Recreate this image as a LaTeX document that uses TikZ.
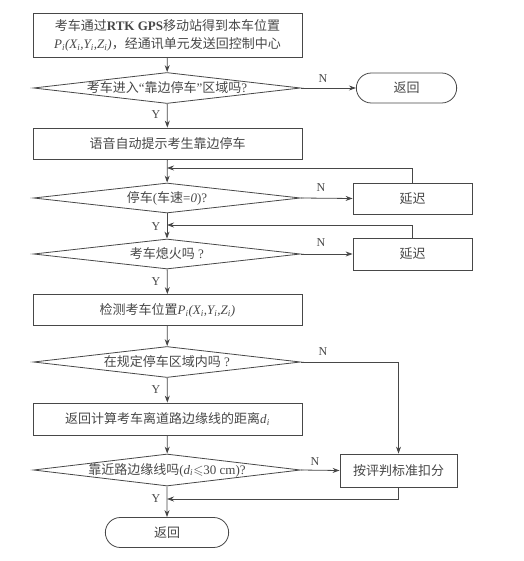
\documentclass[tikz,border=0pt]{standalone}
\usepackage{fontspec}
\usepackage{amssymb}
\setmainfont{Liberation Serif}
\newfontfamily\cjk{Noto Sans CJK SC}
\usetikzlibrary{shapes.geometric,shapes.misc,arrows.meta}
\definecolor{inkgray}{gray}{0.28}
\newcommand{\en}[1]{{\rmfamily #1}}
\newcommand{\posi}{{\rmfamily\itshape P\textsubscript{i}(X\textsubscript{i},Y\textsubscript{i},Z\textsubscript{i})}}

\begin{document}
\begin{tikzpicture}[
    x=1pt, y=-1pt, color=inkgray,
    font=\cjk\fontsize{13}{18}\selectfont,
    process/.style={rectangle, draw, line width=0.8pt, minimum width=269,
                    minimum height=31, inner sep=2pt, align=center},
    decision/.style={diamond, draw, line width=0.8pt, minimum width=267,
                     minimum height=31, inner sep=0pt},
    terminal/.style={rounded rectangle, draw, line width=0.8pt, minimum height=30},
    delaybox/.style={rectangle, draw, line width=0.8pt, minimum width=119, minimum height=31},
    arrow/.style={-{Stealth[length=7pt,width=5pt]}, line width=0.8pt},
    lbl/.style={font=\rmfamily\fontsize{12}{14}\selectfont}
]
\useasboundingbox (0,0) rectangle (523,561);

% main column
\node[process, minimum height=44] (pos)  at (167.5,35)
    {考车通过{\rmfamily\bfseries RTK GPS}移动站得到本车位置\\ \posi，经通讯单元发送回控制中心};
\node[decision] (zone)  at (167,88)  {\makebox[0pt]{考车进入\en{“}靠边停车\en{”}区域吗\en{?}}};
\node[process]  (voice) at (167.5,143.5) {语音自动提示考生靠边停车};
\node[decision, minimum height=30] (stop) at (167,198) {\makebox[0pt]{停车\en{(}车速\en{=\textit{0})?}}};
\node[decision, minimum height=30] (fire) at (167,254) {\makebox[0pt]{考车熄火吗\en{ ?}}};
\node[process]  (detect) at (167.5,310) {检测考车位置\posi};
\node[decision] (area)  at (167,362) {\makebox[0pt]{在规定停车区域内吗\en{ ?}}};
\node[process, minimum height=32] (dist) at (167.5,419) {返回计算考车离道路边缘线的距离\en{\textit{d}\textsubscript{\textit{i}}}};
\node[decision, minimum height=32] (near) at (167,470)
    {\makebox[0pt]{靠近路边缘线吗\en{(\textit{d}\textsubscript{\textit{i}}$\leqslant$30 cm)?}}};
\node[terminal, minimum width=130] (end) at (167,532.5) {返回};

% right column
\node[terminal, minimum width=107] (back)  at (406.5,88) {返回};
\node[delaybox] (wait1) at (412.5,198.5) {延迟};
\node[delaybox, minimum height=32] (wait2) at (412.5,254) {延迟};
\node[rectangle, draw, line width=0.8pt, minimum width=117, minimum height=33] (score) at (398.5,470.5) {按评判标准扣分};

\coordinate (loop1) at (167,168);
\coordinate (loop2) at (167,225);
\coordinate (merge) at (167,499);

% connectors
\draw[arrow] (pos)    -- (zone);
\draw[arrow] (zone)   -- (voice);
\draw[arrow] (voice)  -- (stop);
\draw[arrow] (stop)   -- (fire);
\draw[arrow] (fire)   -- (detect);
\draw[arrow] (detect) -- (area);
\draw[arrow] (area)   -- (dist);
\draw[arrow] (dist)   -- (near);
\draw[arrow] (near)   -- (end);

\draw[arrow] (zone.east) -- (back.west);
\draw[arrow] (stop.east) -- (wait1.west);
\draw[arrow] (fire.east) -- (wait2.west);
\draw[arrow] (wait1.north) |- (loop1);
\draw[arrow] (wait2.north) |- (loop2);
\draw[arrow] (area.east) -| (score.north);
\draw[arrow] (near.east) -- (score.west);
\draw[arrow] (score.south) |- (merge);

% Y / N labels
\node[lbl] (n1) at (323,79)  {N};
\node[lbl] (n2) at (321,188) {N};
\node[lbl] (n3) at (321,243) {N};
\node[lbl] (n4) at (323,352) {N};
\node[lbl] (n5) at (315,462) {N};
\node[lbl] (y1) at (156,115) {Y};
\node[lbl] (y2) at (156,227) {Y};
\node[lbl] (y3) at (156,282) {Y};
\node[lbl] (y4) at (156,390) {Y};
\node[lbl] (y5) at (156,499) {Y};
\end{tikzpicture}
\end{document}
